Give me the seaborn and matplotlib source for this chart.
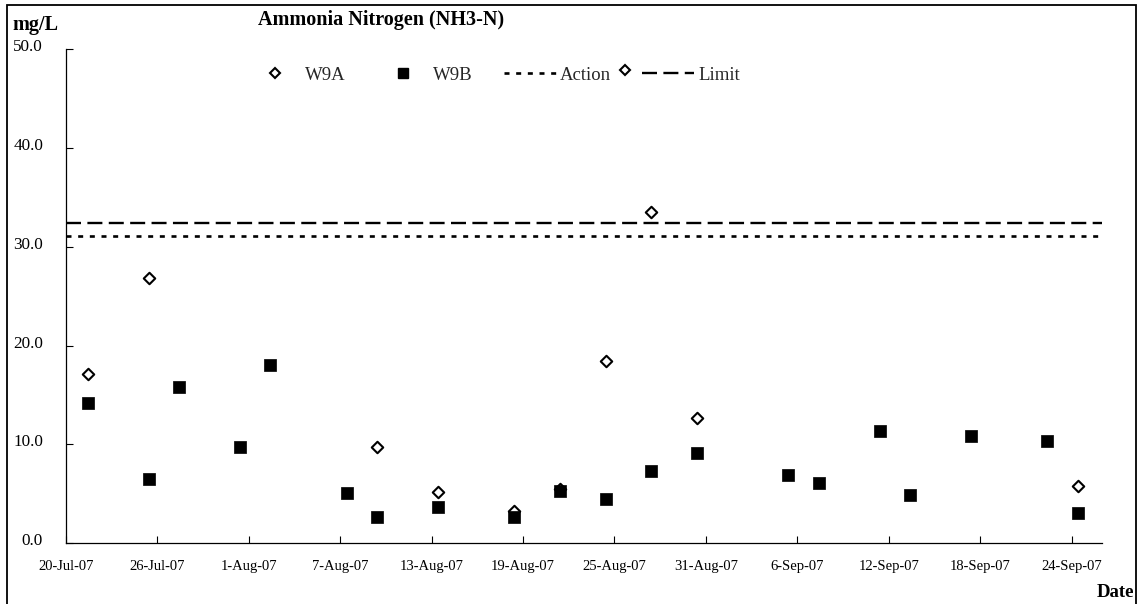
import matplotlib
matplotlib.use("Agg")
import matplotlib.pyplot as plt
import matplotlib.transforms as mtransforms
from matplotlib.lines import Line2D
from matplotlib.legend_handler import HandlerLine2D
from matplotlib.patches import Rectangle
import seaborn as sns
import pandas as pd

# ---------------- data ----------------
w9a_dates = ["2007-07-21 10:00", "2007-07-25 10:00", "2007-08-09 10:00", "2007-08-13 10:00",
             "2007-08-18 10:00", "2007-08-21 10:00", "2007-08-24 10:00", "2007-08-27 10:00",
             "2007-08-30 10:00", "2007-09-24 10:00"]
w9a_values = [17.1, 26.8, 9.7, 5.2, 3.3, 5.5, 18.4, 33.5, 12.7, 5.8]

w9b_dates = ["2007-07-21 10:00", "2007-07-25 10:00", "2007-07-27 10:00", "2007-07-31 10:00",
             "2007-08-02 10:00", "2007-08-07 10:00", "2007-08-09 10:00", "2007-08-13 10:00",
             "2007-08-18 10:00", "2007-08-21 10:00", "2007-08-24 10:00", "2007-08-27 10:00",
             "2007-08-30 10:00", "2007-09-05 10:00", "2007-09-07 10:00", "2007-09-11 10:00",
             "2007-09-13 10:00", "2007-09-17 10:00", "2007-09-22 10:00", "2007-09-24 10:00"]
w9b_values = [14.2, 6.5, 15.8, 9.7, 18.0, 5.1, 2.7, 3.7, 2.7, 5.3, 4.5, 7.3, 9.1,
              6.9, 6.1, 11.4, 4.9, 10.9, 10.3, 3.1]

action_level = 31.1
limit_level = 32.4

tick_dates = ["2007-07-20", "2007-07-26", "2007-08-01", "2007-08-07", "2007-08-13", "2007-08-19",
              "2007-08-25", "2007-08-31", "2007-09-06", "2007-09-12", "2007-09-18", "2007-09-24"]
tick_labels = ["20-Jul-07", "26-Jul-07", "1-Aug-07", "7-Aug-07", "13-Aug-07", "19-Aug-07",
               "25-Aug-07", "31-Aug-07", "6-Sep-07", "12-Sep-07", "18-Sep-07", "24-Sep-07"]
x_range = ["2007-07-20", "2007-09-26"]
y_ticks = [0, 10, 20, 30, 40, 50]

# ---------------- style ----------------
sns.set_theme(style="white")
plt.rcParams['font.family'] = ['Liberation Serif', 'DejaVu Serif']
plt.rcParams['lines.scale_dashes'] = False

W, H = 1141, 604
fig = plt.figure(figsize=(W / 100, H / 100), dpi=100)
fig.patch.set_facecolor("white")
ax = fig.add_axes([66 / W, (H - 543.3) / H, (1102 - 66) / W, (543.3 - 49) / H])
ax.set_facecolor("white")

df_a = pd.DataFrame({"date": pd.to_datetime(w9a_dates), "value": w9a_values})
df_b = pd.DataFrame({"date": pd.to_datetime(w9b_dates), "value": w9b_values})

sns.scatterplot(data=df_a, x="date", y="value", marker="D", s=34, color="white",
                edgecolor="black", linewidth=1.5, ax=ax, zorder=3, legend=False)
sns.scatterplot(data=df_b, x="date", y="value", marker="s", s=72, color="black",
                edgecolor="black", linewidth=0.5, ax=ax, zorder=4, legend=False)

dot_style = (0, (3.6, 4.8))
dash_style = (0, (10.8, 4.6))
ax.axhline(action_level, color="black", lw=1.9, linestyle=dot_style, zorder=2)
ax.axhline(limit_level, color="black", lw=1.7, linestyle=dash_style, zorder=2)

ax.set_xlim(pd.Timestamp(x_range[0]), pd.Timestamp(x_range[1]))
ax.set_xticks(pd.to_datetime(tick_dates))
ax.set_xticklabels(tick_labels)
ax.set_ylim(y_ticks[0], y_ticks[-1])
ax.set_yticks(y_ticks)
ax.set_yticklabels([f"{v:.1f}" for v in y_ticks])
ax.set_xlabel("")
ax.set_ylabel("")

ax.tick_params(axis="both", direction="in", length=5, width=0.8, color="black",
               labelcolor="black", bottom=True, left=True)
ax.tick_params(axis="x", pad=12, labelsize=10.5)
ax.tick_params(axis="y", pad=16.5, labelsize=12.3)

for side in ["top", "right"]:
    ax.spines[side].set_visible(False)
for side in ["left", "bottom"]:
    ax.spines[side].set_color("black")
    ax.spines[side].set_linewidth(0.9)

shift = mtransforms.ScaledTranslation(0, 4 / 100, fig.dpi_scale_trans)
for lab in ax.get_yticklabels():
    lab.set_transform(lab.get_transform() + shift)

# ---------------- texts ----------------
fig.text(381 / W, 1 - 25 / H, "Ammonia Nitrogen (NH3-N)", ha="center", va="baseline",
         fontsize=14.5, fontweight="bold", color="black")
fig.text(12 / W, 1 - 30 / H, "mg/L", ha="left", va="baseline", fontsize=14.5,
         fontweight="bold", color="black")
fig.text(1134 / W, 1 - 597 / H, "Date", ha="right", va="baseline", fontsize=13.5,
         fontweight="bold", color="black")

# ---------------- legend ----------------
class DiamondPlusLine(HandlerLine2D):
    def create_artists(self, legend, orig_handle, xdescent, ydescent, width, height,
                       fontsize, trans):
        artists = super().create_artists(legend, orig_handle, xdescent, ydescent, width,
                                         height, fontsize, trans)
        yc = (height - ydescent) / 2.0 + 2
        d = Line2D([-xdescent - 12.2], [yc], marker="D", markersize=5.2,
                   markerfacecolor="white", markeredgecolor="black",
                   markeredgewidth=1.5, linestyle="none")
        d.set_transform(trans)
        return list(artists) + [d]

h_a = Line2D([], [], marker="D", markersize=5.0, markerfacecolor="white",
             markeredgecolor="black", markeredgewidth=1.5, linestyle="none")
h_b = Line2D([], [], marker="s", markersize=7.5, markerfacecolor="black",
             markeredgecolor="black", linestyle="none")
h_act = Line2D([], [], color="black", lw=1.9, linestyle=dot_style)
h_lim = Line2D([], [], color="black", lw=1.7, linestyle=dash_style)

fig.legend([h_a, h_b, h_act, h_lim], ["W9A", "W9B", "Action", "Limit"],
           loc="center left", bbox_to_anchor=(249 / W, 1 - 75 / H), ncol=4,
           frameon=False, fontsize=13.5, handlelength=2.8, handletextpad=0.2,
           columnspacing=1.65, borderpad=0, borderaxespad=0,
           handler_map={h_lim: DiamondPlusLine()})

# outer frame
fig.patches.append(Rectangle((7 / W, -0.1), (1136 - 7) / W, 0.1 + 1 - 5 / H,
                             transform=fig.transFigure, fill=False,
                             edgecolor="black", lw=1.3))

fig.savefig("out.png", dpi=100)
